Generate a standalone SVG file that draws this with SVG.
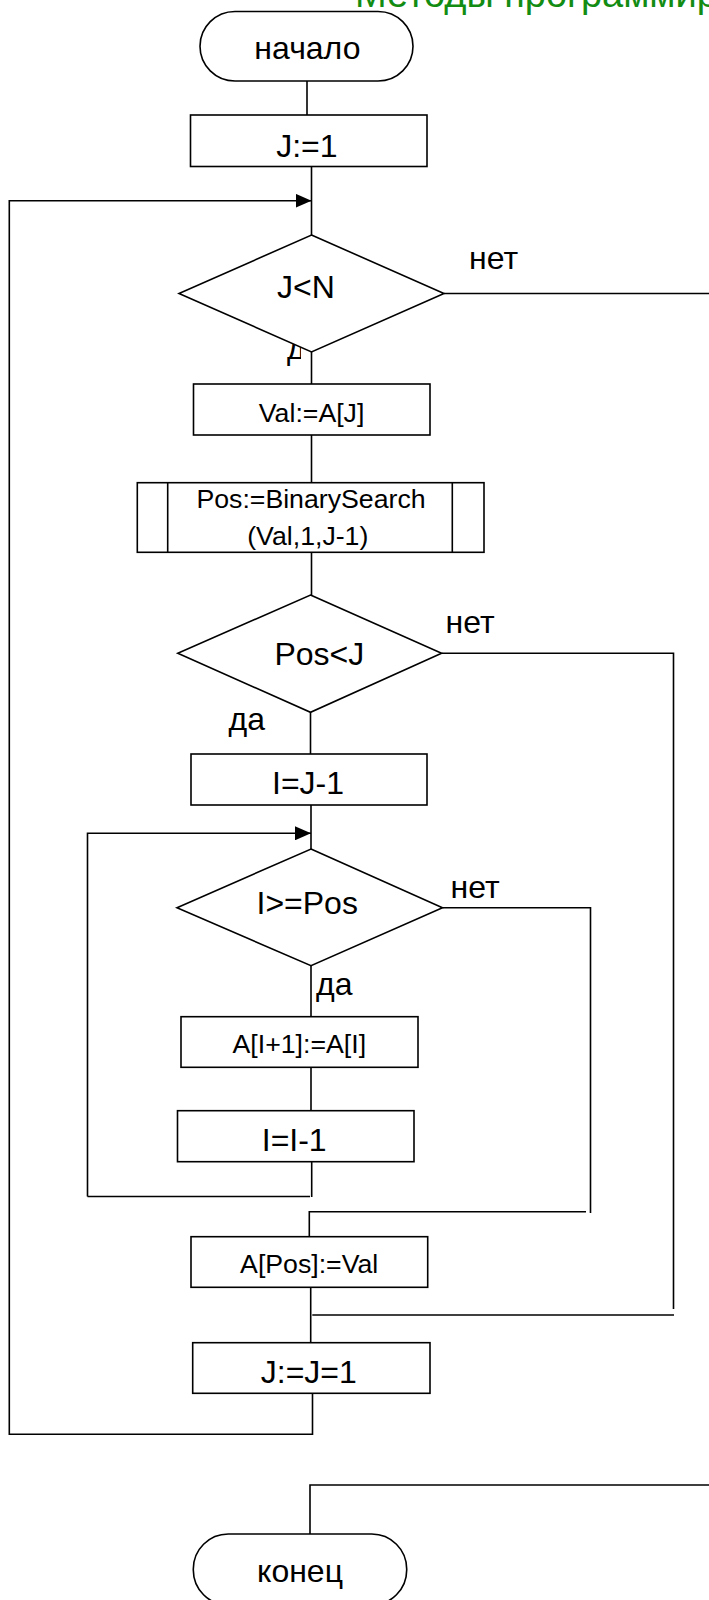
<svg xmlns="http://www.w3.org/2000/svg" width="709" height="1600" viewBox="0 0 709 1600">
<style>
.s{fill:#fff;stroke:#000;stroke-width:1.6}
.c{fill:none;stroke:#000;stroke-width:1.6}
.t{font-family:"Liberation Sans",Arial,sans-serif;font-size:32px;fill:#000;text-anchor:middle}
.m{font-size:26.7px}
.l{font-family:"Liberation Sans",Arial,sans-serif;font-size:32px;fill:#000}
.title{font-family:"Liberation Sans",Arial,sans-serif;font-size:38px;fill:#128c12}
</style>
<defs>
<marker id="ah" markerUnits="userSpaceOnUse" markerWidth="16" markerHeight="14" refX="16" refY="7" orient="auto">
<path d="M0,0 L16,7 L0,14 z" fill="#000"/>
</marker>
<clipPath id="dclip"><rect x="280" y="336" width="21" height="34"/></clipPath>
</defs>
<rect width="709" height="1600" fill="#fff"/>
<text class="title" x="355" y="7">Методы программирования</text>

<g id="connectors">
<path class="c" d="M307,81 V116"/>
<path class="c" d="M311.5,166.5 V235"/>
<path class="c" d="M312.5,1393.3 V1434.3 H9.3 V200.7 H311.5" marker-end="url(#ah)"/>
<path class="c" d="M444,293.5 H709"/>
<path class="c" d="M311.5,352 V384"/>
<path class="c" d="M311.5,435 V482.7"/>
<path class="c" d="M311.5,552.3 V595"/>
<path class="c" d="M441.6,653.3 H673.5 V1309"/>
<path class="c" d="M310.5,712.3 V754"/>
<path class="c" d="M311,805 V849"/>
<path class="c" d="M87.5,1196.5 V833.3 H311" marker-end="url(#ah)"/>
<path class="c" d="M87.5,1196.5 H310"/>
<path class="c" d="M311.7,1161.7 V1197"/>
<path class="c" d="M442.5,907.7 H590.5 V1213"/>
<path class="c" d="M586,1211.7 H309.3 V1236.7"/>
<path class="c" d="M311,965.7 V1016.7"/>
<path class="c" d="M311,1067.3 V1110.7"/>
<path class="c" d="M310.7,1287.3 V1342.7"/>
<path class="c" d="M312.3,1315 H674"/>
<path class="c" d="M709,1485 H310 V1534"/>
</g>

<g id="labels">
<text class="l" x="469" y="269">нет</text>
<text class="l" x="287" y="359" clip-path="url(#dclip)">да</text>
<text class="l" x="445.5" y="633">нет</text>
<text class="l" x="228.5" y="730">да</text>
<text class="l" x="450.5" y="897.7">нет</text>
<text class="l" x="316" y="995">да</text>
</g>

<g id="start">
<rect class="s" x="200" y="11.5" width="213" height="69.5" rx="35" ry="35"/>
<text class="t" x="307.4" y="59.3">начало</text>
</g>
<g id="initJ">
<rect class="s" x="190.5" y="115" width="236.5" height="51.5"/>
<text class="t" x="306.9" y="156.7">J:=1</text>
</g>
<g id="condJN">
<path class="s" d="M311.5,235 L444,293.5 L311.5,352 L179,293.5 Z"/>
<text class="t" x="306" y="298">J&lt;N</text>
</g>
<g id="valAssign">
<rect class="s" x="193.5" y="384" width="236.5" height="51"/>
<text class="t m" x="311.6" y="421.7">Val:=A[J]</text>
</g>
<g id="binSearch">
<rect class="s" x="137.3" y="482.7" width="346.7" height="69.6"/>
<path class="c" d="M167.7,482.7 V552.3 M452.3,482.7 V552.3"/>
<text class="t m" x="311" y="508.3">Pos:=BinarySearch</text>
<text class="t m" x="307.8" y="545">(Val,1,J-1)</text>
</g>
<g id="condPosJ">
<path class="s" d="M310.5,595 L441.6,653.3 L310.5,712.3 L177.8,653.3 Z"/>
<text class="t" x="319.3" y="665">Pos&lt;J</text>
</g>
<g id="initI">
<rect class="s" x="191" y="754" width="236" height="51"/>
<text class="t" x="308" y="794">I=J-1</text>
</g>
<g id="condIPos">
<path class="s" d="M311,849 L442.5,907.7 L311,965.7 L177,907.7 Z"/>
<text class="t" x="307.2" y="914">I&gt;=Pos</text>
</g>
<g id="shift">
<rect class="s" x="181" y="1016.7" width="237" height="50.6"/>
<text class="t m" x="299.3" y="1053.3">A[I+1]:=A[I]</text>
</g>
<g id="decI">
<rect class="s" x="177.5" y="1110.7" width="236.5" height="51"/>
<text class="t" x="294.2" y="1150.7">I=I-1</text>
</g>
<g id="insert">
<rect class="s" x="191" y="1236.7" width="236.7" height="50.6"/>
<text class="t m" x="309.2" y="1273.3">A[Pos]:=Val</text>
</g>
<g id="incJ">
<rect class="s" x="192.7" y="1342.7" width="237.3" height="50.6"/>
<text class="t" x="308.8" y="1383.3">J:=J=1</text>
</g>
<g id="end">
<rect class="s" x="193.3" y="1534" width="213.4" height="71" rx="35" ry="35"/>
<text class="t" x="300" y="1581.7">конец</text>
</g>
</svg>
